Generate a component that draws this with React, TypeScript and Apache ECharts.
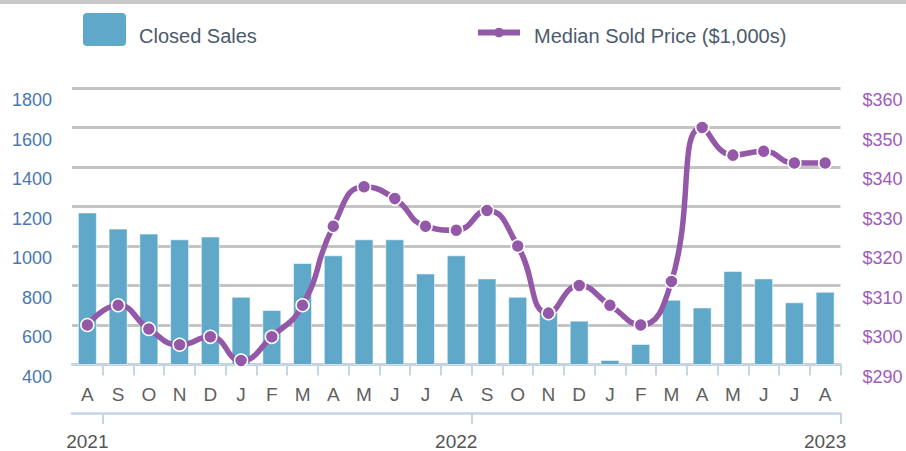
import React, { useEffect, useRef } from "react";
import * as echarts from "echarts";

const months = ["A", "S", "O", "N", "D", "J", "F", "M", "A", "M", "J", "J", "A", "S", "O", "N", "D", "J", "F", "M", "A", "M", "J", "J", "A"];
const yearLabels = ["2021", "2022", "2023"];
const yearLabelIndex = [0, 12, 24];
const yearTickIndex = [1, 13];
const seriesNames = ["Closed Sales", "Median Sold Price ($1,000s)"];
const closedSales = [1170, 1088, 1063, 1034, 1048, 743, 676, 914, 953, 1034, 1034, 861, 953, 836, 743, 664, 622, 423, 504, 728, 689, 874, 836, 715, 768];
const medianPrice = [300, 305, 299, 295, 297, 291, 297, 305, 325, 335, 332, 325, 324, 329, 320, 303, 310, 305, 300, 311, 350, 343, 344, 341, 341];

const FONT = "'Liberation Sans', Arial, Helvetica, sans-serif";
const BAR = "#5fa8c9";
const LINE = "#9458a8";
const AXIS = "#c5d5e6";
const LEGEND_TEXT = "#4b5a6c";

export default function App() {
  const ref = useRef<HTMLDivElement>(null);
  useEffect(() => {
    if (!ref.current) return;
    const chart = echarts.init(ref.current, null, { renderer: "svg" });
    const yearCats = months.map((_, i) => {
      const k = yearLabelIndex.indexOf(i);
      return k >= 0 ? yearLabels[k] : "";
    });
    chart.setOption({
      animation: false,
      backgroundColor: "#ffffff",
      textStyle: { fontFamily: FONT },
      graphic: [
        { type: "rect", left: 0, top: 0, shape: { x: 0, y: 0, width: 906, height: 4 }, style: { fill: "#c8c8c8" }, silent: true },
        { type: "rect", shape: { x: 83, y: 13, width: 43, height: 33, r: 4 }, style: { fill: BAR }, silent: true },
        { type: "text", x: 139, y: 36, style: { text: seriesNames[0], fontSize: 20, fontFamily: FONT, fill: LEGEND_TEXT, verticalAlign: "middle", align: "left" }, silent: true },
        { type: "line", shape: { x1: 478, y1: 32.5, x2: 520, y2: 32.5 }, style: { stroke: LINE, lineWidth: 6 }, silent: true },
        { type: "circle", shape: { cx: 499, cy: 32.5, r: 4.8 }, style: { fill: LINE }, silent: true },
        { type: "text", x: 534, y: 36, style: { text: seriesNames[1], fontSize: 20, fontFamily: FONT, fill: LEGEND_TEXT, verticalAlign: "middle", align: "left" }, silent: true },
      ],
      grid: { left: 72, right: 65.5, top: 88, bottom: 84.5, containLabel: false },
      xAxis: [
        {
          type: "category",
          data: months,
          position: "bottom",
          boundaryGap: true,
          axisLine: { show: true, lineStyle: { color: AXIS, width: 2.5 } },
          axisTick: { show: true, length: 11, interval: (i: number) => i >= 1, lineStyle: { color: AXIS, width: 2 } },
          axisLabel: { interval: 0, margin: 20, fontSize: 19, color: "#5f5f5f", fontFamily: FONT },
          splitLine: { show: false },
        },
        {
          type: "category",
          data: yearCats,
          position: "bottom",
          offset: 48.5,
          boundaryGap: true,
          axisLine: { show: true, lineStyle: { color: AXIS, width: 2.5 } },
          axisTick: { show: true, length: 11, interval: (i: number) => yearTickIndex.indexOf(i) >= 0, lineStyle: { color: AXIS, width: 2 } },
          axisLabel: { interval: (i: number) => yearLabelIndex.indexOf(i) >= 0, margin: 19, fontSize: 19, color: "#555555", fontFamily: FONT },
          splitLine: { show: false },
        },
      ],
      yAxis: [
        {
          type: "value",
          min: 400,
          max: 1800,
          interval: 200,
          position: "left",
          axisLine: { show: false },
          axisTick: { show: false },
          axisLabel: { margin: 20, fontSize: 18, color: "#4a78b0", fontFamily: FONT, verticalAlign: "top", lineHeight: 24, formatter: (v: number) => String(v) },
          splitLine: { show: true, lineStyle: { color: "#c4c4c4", width: 3 } },
        },
        {
          type: "value",
          min: 290,
          max: 360,
          interval: 10,
          position: "right",
          axisLine: { show: false },
          axisTick: { show: false },
          axisLabel: { margin: 22, fontSize: 18, color: "#a05cb8", fontFamily: FONT, verticalAlign: "top", lineHeight: 24, formatter: (v: number) => "$" + v },
          splitLine: { show: false },
        },
      ],
      series: [
        {
          name: seriesNames[0],
          type: "bar",
          xAxisIndex: 0,
          yAxisIndex: 0,
          data: closedSales,
          barWidth: 19,
          itemStyle: { color: BAR, borderColor: "rgba(255,255,255,0.55)", borderWidth: 1 },
        },
        {
          name: seriesNames[1],
          type: "line",
          xAxisIndex: 0,
          yAxisIndex: 1,
          data: medianPrice,
          smooth: 0.5,
          symbol: "circle",
          symbolSize: 13,
          lineStyle: { color: LINE, width: 5.5 },
          itemStyle: { color: LINE, borderColor: "#ffffff", borderWidth: 1.5 },
          z: 5,
        },
      ],
    });
    return () => chart.dispose();
  }, []);
  return <div ref={ref} style={{ position: "fixed", left: 0, top: 0, width: 906, height: 451 }} />;
}
